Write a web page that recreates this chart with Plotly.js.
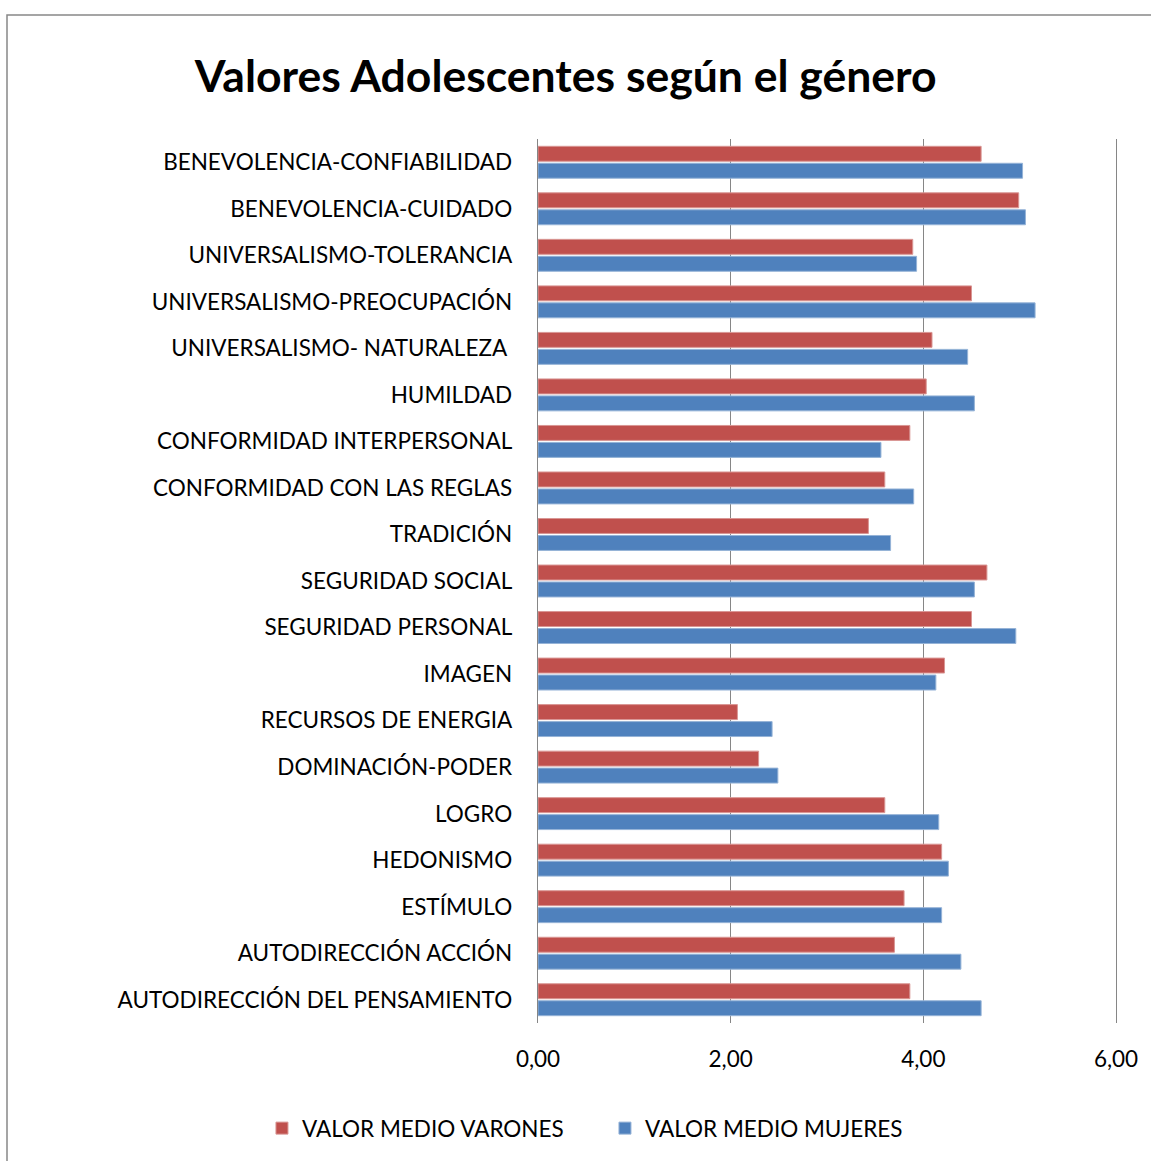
<!DOCTYPE html>
<html>
<head>
<meta charset="utf-8">
<script src="https://cdn.plot.ly/plotly-3.0.1.min.js"></script>
<style>
html,body{margin:0;padding:0;background:#fff;}
#chart{width:1151px;height:1161px;}
</style>
</head>
<body>
<div id="chart"></div>
<script>
const categories = [
  "BENEVOLENCIA-CONFIABILIDAD",
  "BENEVOLENCIA-CUIDADO",
  "UNIVERSALISMO-TOLERANCIA",
  "UNIVERSALISMO-PREOCUPACIÓN",
  "UNIVERSALISMO- NATURALEZA ",
  "HUMILDAD",
  "CONFORMIDAD INTERPERSONAL",
  "CONFORMIDAD CON LAS REGLAS",
  "TRADICIÓN",
  "SEGURIDAD SOCIAL",
  "SEGURIDAD PERSONAL",
  "IMAGEN",
  "RECURSOS DE ENERGIA",
  "DOMINACIÓN-PODER",
  "LOGRO",
  "HEDONISMO",
  "ESTÍMULO",
  "AUTODIRECCIÓN ACCIÓN",
  "AUTODIRECCIÓN DEL PENSAMIENTO"
];
const varones = [4.60, 4.99, 3.89, 4.50, 4.09, 4.03, 3.86, 3.60, 3.43, 4.66, 4.50, 4.22, 2.07, 2.29, 3.60, 4.19, 3.80, 3.70, 3.86];
const mujeres = [5.03, 5.06, 3.93, 5.16, 4.46, 4.53, 3.56, 3.90, 3.66, 4.53, 4.96, 4.13, 2.43, 2.49, 4.16, 4.26, 4.19, 4.39, 4.60];
const tickVals = [0, 2, 4, 6];
const tickLabels = ["0,00", "2,00", "4,00", "6,00"];
const seriesNames = ["VALOR MEDIO VARONES", "VALOR MEDIO MUJERES"];

const FONT = "Lato, 'Open Sans', sans-serif";
const PT = 139, PB = 1023, PL = 538, PR = 1116;

const data = [
  {type:'bar', orientation:'h', name:seriesNames[0], y:categories, x:varones, legend:'legend',
   marker:{color:'#C0504D', line:{color:'#D99694', width:1}}},
  {type:'bar', orientation:'h', name:seriesNames[1], y:categories, x:mujeres, legend:'legend2',
   marker:{color:'#4F81BD', line:{color:'#95B3D7', width:1}}}
];

const legendCommon = {orientation:'h', xref:'container', xanchor:'left', yref:'container', y:0.028, yanchor:'middle',
                      font:{size:22.5, family:FONT}, itemwidth:30, bgcolor:'rgba(0,0,0,0)'};

const layout = {
  width:1151, height:1161,
  paper_bgcolor:'#fff', plot_bgcolor:'#fff',
  margin:{l:PL, r:1151-PR, t:PT, b:1161-PB, autoexpand:false},
  font:{family:FONT, color:'#000', size:22},
  title:{text:'<b>Valores Adolescentes según el género</b>', font:{family:FONT, size:44.5, color:'#000'},
         x:0.4915, xref:'container', xanchor:'center', y:0.934, yref:'container', yanchor:'middle'},
  barmode:'group', bargap:0.27, bargroupgap:0.12,
  xaxis:{range:[0,6], tickvals:tickVals, ticktext:tickLabels, showgrid:true, gridcolor:'#868686', gridwidth:1.3,
         zeroline:false, showline:false, ticks:'', ticklen:0, ticklabelstandoff:20, tickfont:{size:22.5, family:FONT}},
  yaxis:{autorange:'reversed', type:'category', showline:true, mirror:true, linecolor:'#868686', linewidth:1.3,
         ticks:'', ticklabelstandoff:20, tickfont:{size:22.5, family:FONT}, automargin:false},
  showlegend:true,
  legend:Object.assign({}, legendCommon, {x:0.2276}),
  legend2:Object.assign({}, legendCommon, {x:0.5256}),
  shapes:[{type:'rect', xref:'paper', yref:'paper', x0:(7-PL)/(PR-PL), x1:2, y0:-1, y1:(PB-15)/(PB-PT),
           line:{color:'#888888', width:1.5}, fillcolor:'rgba(0,0,0,0)', layer:'below'}]
};

Plotly.newPlot('chart', data, layout, {displayModeBar:false, staticPlot:true});
</script>
</body>
</html>
